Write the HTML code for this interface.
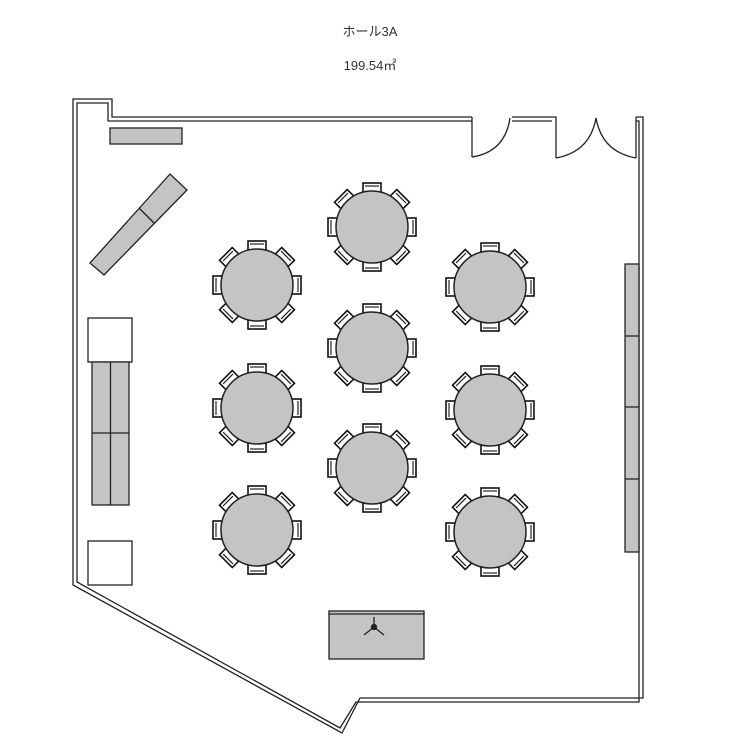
<!DOCTYPE html>
<html><head><meta charset="utf-8"><style>
html,body{margin:0;padding:0;background:#fff;width:750px;height:750px;overflow:hidden}
text{font-family:"Liberation Sans","Noto Sans CJK JP",sans-serif;font-size:13px;fill:#333}
</style></head><body>
<svg width="750" height="750" viewBox="0 0 750 750" xmlns="http://www.w3.org/2000/svg">
<defs>
<g id="ch"><rect x="-9" y="-44" width="18" height="9" fill="#fff" stroke="#111" stroke-width="1.6"/><line x1="-7" y1="-41" x2="7" y2="-41" stroke="#111" stroke-width="1.1"/></g>
<g id="tb">
<use href="#ch"/><use href="#ch" transform="rotate(45)"/><use href="#ch" transform="rotate(90)"/><use href="#ch" transform="rotate(135)"/>
<use href="#ch" transform="rotate(180)"/><use href="#ch" transform="rotate(225)"/><use href="#ch" transform="rotate(270)"/><use href="#ch" transform="rotate(315)"/>
<circle r="36" fill="#c4c4c4" stroke="#222" stroke-width="1.5"/>
</g>
</defs>
<text x="370" y="36" text-anchor="middle">ホール3A</text>
<text x="370" y="70" text-anchor="middle">199.54㎡</text>
<g fill="none" stroke="#222" stroke-width="1.3">
<polyline points="472,117 112,117 112,99 73,99 73,585 342,733 360,698 643,698 643,117 636,117"/>
<polyline points="472,121 108,121 108,103 77,103 77,582 340,728 356,702 639,702 639,121 636,121"/>
<polyline points="512,117 556,117 556,158"/>
<polyline points="512,121 552,121"/>
<line x1="472" y1="117" x2="472" y2="157"/>
<path d="M472,157 Q505,152 510,118"/>
<path d="M556,158 Q590,152 596,118 Q602,152 636,158"/>
<line x1="636" y1="117" x2="636" y2="158"/>
</g>
<g stroke="#222" stroke-width="1.3">
<rect x="110" y="128" width="72" height="16" fill="#c4c4c4"/>
<polygon points="90,263 104,275 187,190 170,174" fill="#c4c4c4"/>
<line x1="139" y1="208" x2="154" y2="223"/>
<rect x="88" y="318" width="44" height="44" fill="#fff"/>
<rect x="92" y="362" width="37" height="143" fill="#c4c4c4"/>
<line x1="110.5" y1="362" x2="110.5" y2="505"/>
<line x1="92" y1="433" x2="129" y2="433"/>
<rect x="88" y="541" width="44" height="44" fill="#fff"/>
<rect x="625" y="264" width="14" height="288" fill="#c4c4c4"/>
<line x1="625" y1="336" x2="639" y2="336"/><line x1="625" y1="407" x2="639" y2="407"/><line x1="625" y1="479" x2="639" y2="479"/>
<rect x="329" y="611" width="95" height="48" fill="#c4c4c4"/>
<line x1="329" y1="614" x2="424" y2="614"/>
<line x1="374" y1="627" x2="374" y2="617"/><line x1="374" y1="627" x2="364" y2="635"/><line x1="374" y1="627" x2="384" y2="635"/>
<circle cx="374" cy="627" r="2.5" fill="#222"/>
</g>
<use href="#tb" x="257" y="285"/><use href="#tb" x="257" y="408"/><use href="#tb" x="257" y="530"/>
<use href="#tb" x="372" y="227"/><use href="#tb" x="372" y="348"/><use href="#tb" x="372" y="468"/>
<use href="#tb" x="490" y="287"/><use href="#tb" x="490" y="410"/><use href="#tb" x="490" y="532"/>
</svg>
</body></html>
